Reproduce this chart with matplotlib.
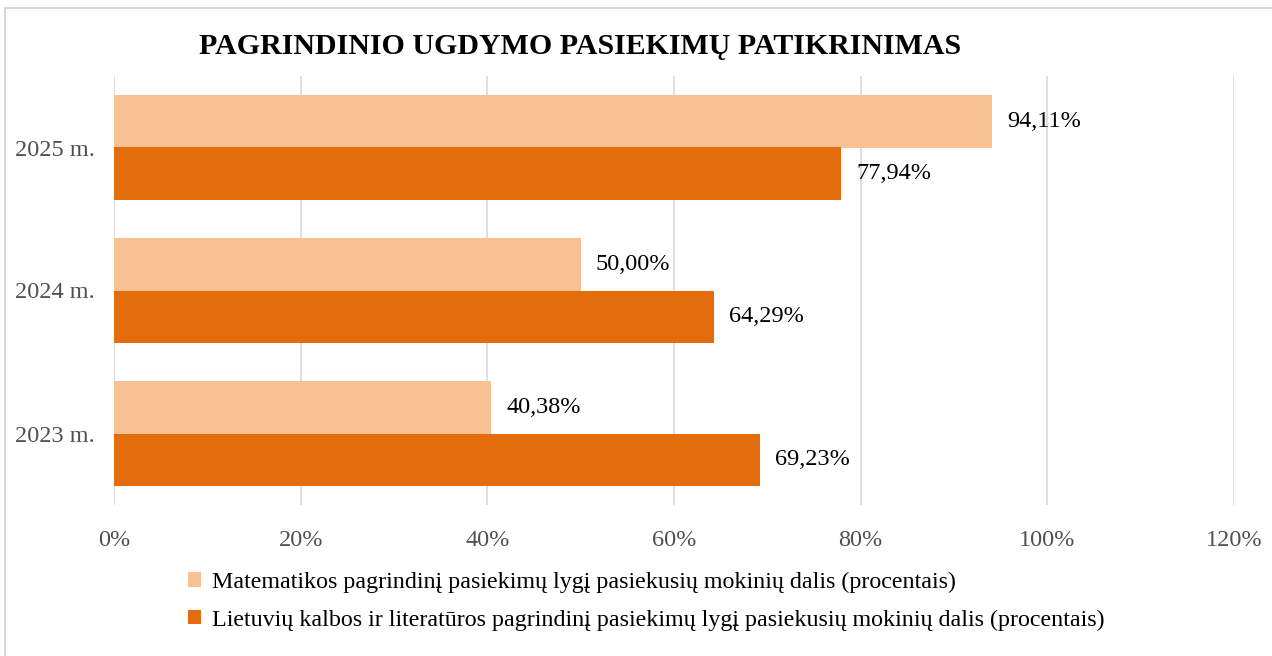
import matplotlib
matplotlib.use("Agg")
import matplotlib.pyplot as plt
from matplotlib.patches import Rectangle
import numpy as np

categories = ["2023 m.", "2024 m.", "2025 m."]
math_vals = [40.38, 50.00, 94.11]
lit_vals = [69.23, 64.29, 77.94]
series_names = [
    "Matematikos pagrindinį pasiekimų lygį pasiekusių mokinių dalis (procentais)",
    "Lietuvių kalbos ir literatūros pagrindinį pasiekimų lygį pasiekusių mokinių dalis (procentais)",
]
xticks = [0, 20, 40, 60, 80, 100, 120]
title = "PAGRINDINIO UGDYMO PASIEKIMŲ PATIKRINIMAS"

light = "#F8C194"
dark = "#E36C0C"

plt.rcParams["font.family"] = ["Liberation Serif", "DejaVu Serif"]

W, H = 1272, 656
fig = plt.figure(figsize=(W / 100, H / 100), dpi=100)
fig.patch.set_facecolor("white")

# frame
fig.patches.append(Rectangle((5 / W, -0.05), 1.2, (H - 8) / H + 0.05,
                             transform=fig.transFigure, fill=False,
                             edgecolor="#D9D9D9", linewidth=1.5))

left, right = 114 / W, 1234 / W
top, bottom = 1 - 76 / H, 1 - 505 / H
ax = fig.add_axes([left, bottom, right - left, top - bottom])

y = np.arange(len(categories))
bh = 53 / 143.5
ax.barh(y + bh / 2, math_vals, height=bh, color=light, label=series_names[0], zorder=3)
ax.barh(y - bh / 2, lit_vals, height=bh, color=dark, label=series_names[1], zorder=3)

def fmt(v):
    return f"{v:.2f}".replace(".", ",") + "%"

for yi, v in zip(y, math_vals):
    ax.annotate(fmt(v), (v, yi + bh / 2), xytext=(11, 0), textcoords="offset points",
                va="center", ha="left", fontsize=17.5, color="#000000")
for yi, v in zip(y, lit_vals):
    ax.annotate(fmt(v), (v, yi - bh / 2), xytext=(11, 0), textcoords="offset points",
                va="center", ha="left", fontsize=17.5, color="#000000")

ax.set_xlim(0, 120)
ax.set_ylim(-0.5, 2.5)
ax.set_xticks(xticks)
ax.set_xticklabels([f"{t}%" for t in xticks], fontsize=17.5, color="#505050")
ax.set_yticks(y)
ax.set_yticklabels(categories, fontsize=17.5, color="#505050")
ax.tick_params(axis="both", length=0)
ax.tick_params(axis="x", pad=18)
ax.tick_params(axis="y", pad=14)
ax.grid(axis="x", color="#D9D9D9", linewidth=1.2, zorder=0)
for s in ax.spines.values():
    s.set_visible(False)

fig.text(0.5 * (203 + 957) / W, 1 - 47 / H, title, ha="center", va="center",
         fontsize=21.5, fontweight="bold", color="#000000")

handles, labels = ax.get_legend_handles_labels()
leg = fig.legend(handles, labels, loc="upper left", bbox_to_anchor=(188 / W, 1 - 572 / H),
                 frameon=False, fontsize=17.3, handlelength=0.55, handleheight=0.55,
                 handletextpad=0.45, labelspacing=0.68, borderaxespad=0, borderpad=0)
for t in leg.get_texts():
    t.set_color("#000000")

fig.savefig("out.png", dpi=100, facecolor="white")
